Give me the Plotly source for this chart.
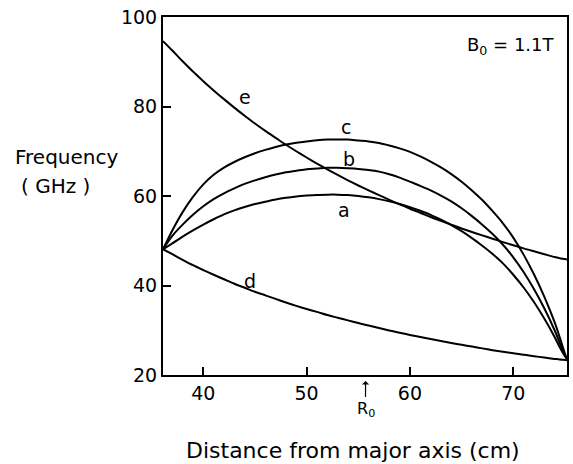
import plotly.graph_objects as go

# Distance from major axis (cm)
distance_cm = [36.1, 37, 38, 39, 40, 41, 42, 43, 44, 45, 46, 47, 48, 49, 50, 51, 52, 53,
               54, 55, 56, 57, 58, 59, 60, 61, 62, 63, 64, 65, 66, 67, 68, 69, 70, 71,
               72, 73, 74, 74.5, 75, 75.2]

# Frequency (GHz) for each curve
curve_a = [48.1, 49.4, 50.9, 52.3, 53.6, 54.8, 55.9, 56.8, 57.55, 58.2, 58.7, 59.2, 59.6,
           59.9, 60.1, 60.25, 60.3, 60.3, 60.2, 60.0, 59.7, 59.3, 58.8, 58.2, 57.5, 56.7,
           55.8, 54.7, 53.5, 52.15, 50.6, 48.9, 47.05, 44.95, 42.4, 39.55, 36.3, 32.6,
           28.5, 26.2, 24.2, 23.6]
curve_b = [48.1, 51.1, 53.6, 55.8, 57.7, 59.3, 60.6, 61.7, 62.7, 63.5, 64.2, 64.8, 65.3,
           65.65, 66.0, 66.15, 66.3, 66.3, 66.2, 66.05, 65.8, 65.45, 64.85, 64.1, 63.2,
           62.25, 61.25, 60.1, 58.8, 57.25, 55.5, 53.6, 51.5, 49.1, 46.3, 43.0, 39.2,
           34.9, 30.0, 27.2, 24.4, 23.6]
curve_c = [48.1, 52.3, 56.4, 59.8, 62.6, 64.75, 66.35, 67.6, 68.65, 69.55, 70.3, 70.95, 71.5,
           71.9, 72.2, 72.45, 72.6, 72.6, 72.6, 72.4, 72.2, 71.85, 71.3, 70.65, 69.85,
           68.85, 67.7, 66.4, 64.9, 63.2, 61.25, 59.1, 56.6, 53.9, 50.7, 46.9, 42.5,
           37.5, 31.8, 28.4, 24.8, 23.6]
curve_d = [48.1, 47.0, 45.75, 44.55, 43.45, 42.4, 41.4, 40.4, 39.5, 38.6, 37.8, 37.0, 36.2,
           35.45, 34.75, 34.1, 33.4, 32.8, 32.2, 31.6, 31.05, 30.5, 29.95, 29.45, 28.95,
           28.5, 28.05, 27.6, 27.15, 26.75, 26.35, 25.95, 25.55, 25.2, 24.85, 24.5, 24.2,
           23.9, 23.6, 23.45, 23.35, 23.3]
curve_e = [94.6, 92.5, 90.1, 87.8, 85.65, 83.6, 81.65, 79.75, 77.95, 76.2, 74.55, 73.0,
           71.45, 70.0, 68.6, 67.25, 65.95, 64.7, 63.5, 62.35, 61.25, 60.2, 59.15, 58.15,
           57.15, 56.25, 55.3, 54.45, 53.6, 52.75, 51.95, 51.2, 50.45, 49.7, 49.0, 48.3,
           47.65, 47.0, 46.35, 46.1, 45.9, 45.8]

curve_names = ["a", "b", "c", "d", "e"]
label_x = [53.6, 54.1, 53.8, 44.5, 44.0]
label_y = [56.9, 68.2, 75.5, 41.0, 82.1]

x_ticks = [40, 50, 60, 70]
y_ticks = [20, 40, 60, 80, 100]
R0 = 55.7

FONT = "DejaVu Sans"

fig = go.Figure()
for ys in [curve_a, curve_b, curve_c, curve_d, curve_e]:
    fig.add_trace(go.Scatter(x=distance_cm, y=ys, mode="lines",
                             line=dict(color="black", width=2, shape="spline", smoothing=0.8),
                             showlegend=False, hoverinfo="skip"))

for name, lx, ly in zip(curve_names, label_x, label_y):
    fig.add_annotation(x=lx, y=ly, text=name, showarrow=False,
                       xanchor="center", yanchor="middle",
                       font=dict(family=FONT, size=19, color="black"))

fig.add_annotation(xref="paper", yref="paper", x=0.862, y=0.919,
                   xanchor="center", yanchor="middle",
                   text="B<sub>0</sub> = 1.1T", showarrow=False,
                   font=dict(family=FONT, size=18, color="black"))

fig.add_annotation(xref="paper", yref="paper", x=-0.2377, y=0.609,
                   xanchor="center", yanchor="middle",
                   text="Frequency", showarrow=False,
                   font=dict(family=FONT, size=20, color="black"))
fig.add_annotation(xref="paper", yref="paper", x=-0.357, y=0.528,
                   xanchor="left", yanchor="middle",
                   text="( GHz )", showarrow=False,
                   font=dict(family=FONT, size=20, color="black"))
fig.add_annotation(xref="paper", yref="paper", x=0.470, y=-0.2095,
                   xanchor="center", yanchor="middle",
                   text="Distance from major axis (cm)", showarrow=False,
                   font=dict(family=FONT, size=22, color="black"))
fig.add_annotation(x=R0, xref="x", yref="paper", y=-0.0168,
                   text="R<sub>0</sub>", showarrow=True, ax=0, ay=28,
                   arrowhead=1, arrowsize=1, arrowwidth=1.2, arrowcolor="black",
                   font=dict(family=FONT, size=16, color="black"))

axis_common = dict(showgrid=False, zeroline=False, showline=True, linecolor="black",
                   linewidth=2, mirror=True, ticks="inside", ticklen=8, tickwidth=1.6,
                   tickcolor="black", tickfont=dict(family=FONT, size=19, color="black"))

fig.update_xaxes(range=[36.1, 75.2], tickvals=x_ticks, **axis_common)
fig.update_yaxes(range=[20, 100], tickvals=y_ticks, **axis_common)

fig.update_layout(width=573, height=464, margin=dict(l=163, r=4, t=17, b=89),
                  paper_bgcolor="white", plot_bgcolor="white")

fig.write_html("out.html")
